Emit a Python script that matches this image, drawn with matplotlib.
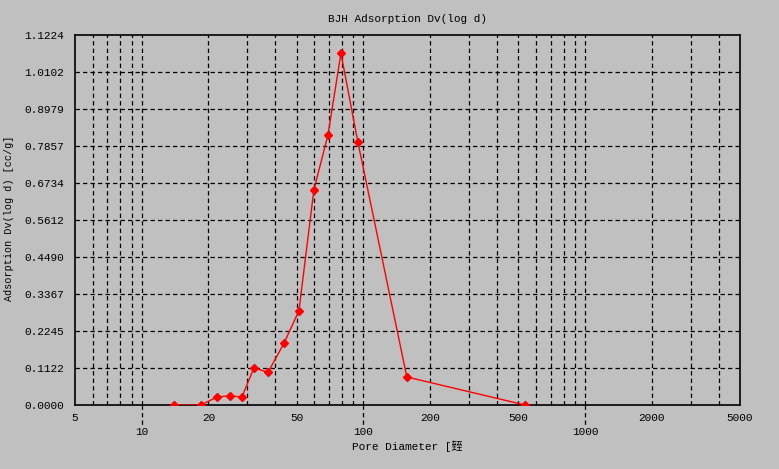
import numpy as np
import matplotlib
matplotlib.use("Agg")
import matplotlib.pyplot as plt
import matplotlib.transforms as mtransforms

# BJH adsorption data
pore_diameter = [14.0, 18.5, 21.8, 25.0, 28.3, 32.1, 37.1, 43.8, 51.2, 59.8, 69.2, 79.2, 94.4, 157.0, 536.0]
dv_logd = [0.0, 0.0, 0.024, 0.028, 0.024, 0.113, 0.099, 0.187, 0.286, 0.653, 0.819, 1.067, 0.798, 0.085, 0.0]

x_ticks = [5, 10, 20, 50, 100, 200, 500, 1000, 2000, 5000]
low_ticks = [10, 100, 1000]
grid_x = [6, 7, 8, 9, 10, 20, 30, 40, 50, 60, 70, 80, 90, 100, 200, 300, 400, 500,
          600, 700, 800, 900, 1000, 2000, 3000, 4000]
y_max = 1.1224
y_ticks = np.linspace(0, y_max, 11)

bg = "#c0c0c0"
mono = ["Liberation Mono", "DejaVu Sans Mono"]
plt.rcParams['font.family'] = mono

fig = plt.figure(figsize=(7.79, 4.69), dpi=100, facecolor=bg)
ax = fig.add_axes([75 / 779, 64 / 469, 665 / 779, 370 / 469])
ax.set_facecolor(bg)

ax.set_xscale("log")
ax.set_xlim(5, 5000)
ax.set_ylim(0, y_max)

dash = (0, (3.5, 2.5))
for gx in grid_x:
    ax.axvline(gx, color="black", lw=0.9, ls=dash, zorder=1)
for gy in y_ticks[1:-1]:
    ax.axhline(gy, color="black", lw=0.9, ls=dash, zorder=1)

ax.plot(pore_diameter, dv_logd, color="red", lw=1, marker="D", ms=4.5,
        mec="red", mfc="red", zorder=3)

ax.set_xticks(x_ticks)
ax.set_xticklabels([str(v) for v in x_ticks])
ax.xaxis.set_minor_locator(matplotlib.ticker.NullLocator())
ax.tick_params(axis="x", length=0, pad=6, labelsize=8)
for t, v in zip(ax.xaxis.get_major_ticks(), x_ticks):
    if v in low_ticks:
        t.set_pad(16)

# dashed extension below the axis at the decades
trans = mtransforms.blended_transform_factory(ax.transData, ax.transAxes)
for v in low_ticks:
    ax.plot([v, v], [0, -0.06], transform=trans, color="black", lw=0.9,
            ls=dash, clip_on=False)

ax.set_yticks(y_ticks)
ax.set_yticklabels(["%.4f" % v for v in y_ticks])
ax.tick_params(axis="y", length=0, pad=8, labelsize=8)

for s in ax.spines.values():
    s.set_color("black")
    s.set_linewidth(1.2)

ax.set_title("BJH Adsorption Dv(log d)", fontsize=8, pad=9)
ax.set_xlabel("Pore Diameter [" + b"\xc5\x5d".decode("gbk"), fontsize=8,
              family=mono + ["Noto Sans CJK SC"])
ax.xaxis.set_label_coords(0.5, -0.097)
ax.set_ylabel("Adsorption Dv(log d) [cc/g]", fontsize=7.3)
ax.yaxis.set_label_coords(-0.091, 0.505)

fig.savefig("out.png", dpi=100, facecolor=bg)
